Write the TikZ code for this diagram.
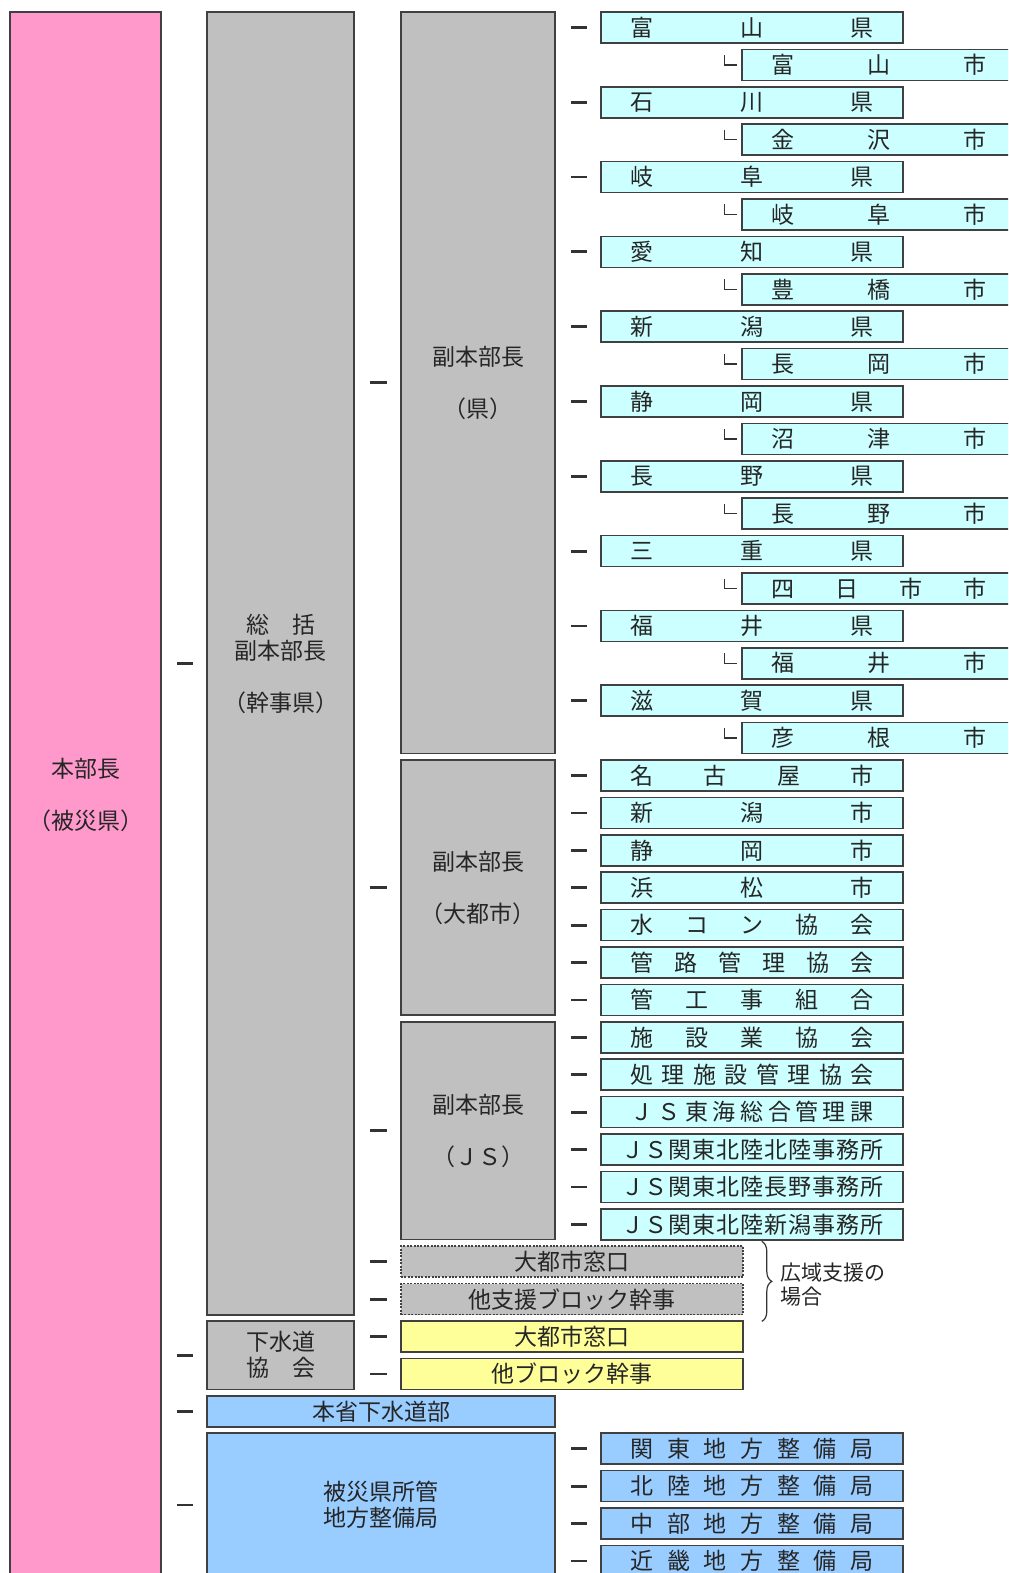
\documentclass[tikz,border=0pt]{standalone}
\usepackage{fontspec}
\setmainfont{Noto Sans CJK JP}
\usetikzlibrary{decorations.pathreplacing}

\definecolor{hqpink}{RGB}{255,153,204}
\definecolor{boxgray}{RGB}{192,192,192}
\definecolor{boxcyan}{RGB}{204,255,255}
\definecolor{boxyellow}{RGB}{255,255,153}
\definecolor{boxblue}{RGB}{153,204,255}

% spread the characters of a label over a fixed width
\newcommand{\spr}[2][121.5pt]{\makebox[#1][s]{\spaceskip=0pt plus 1fil\relax #2}}

\begin{document}
\begin{tikzpicture}[
    x=0.5pt, y=-0.5pt,
    box/.style={draw=black!75, line width=0.8pt, inner sep=0pt, text=black!85, font=\fontsize{11.5}{13}\selectfont, align=center},
    hq/.style={box, fill=hqpink, minimum width=75.5pt},
    chief/.style={box, fill=boxgray, minimum width=73.5pt},
    deputy/.style={box, fill=boxgray, minimum width=77pt},
    member/.style={box, fill=#1, minimum width=151pt, minimum height=15.5pt},
    city/.style={box, fill=boxcyan, minimum width=137pt, minimum height=15.5pt},
    wide/.style={box, fill=#1, minimum width=171pt, minimum height=15.5pt},
    wdash/.style={dash pattern=on 1pt off 0.7pt},
    tick/.style={line width=1.4pt, black!80, shorten <=7.5pt, shorten >=6.5pt},
    elbow/.style={line width=0.7pt, black!80},
    brace/.style={decorate, decoration={brace, amplitude=5pt}, line width=0.6pt, black!80},
    note/.style={inner sep=0pt, align=left, text=black!85, font=\fontsize{10.5}{12}\selectfont},
]
\useasboundingbox (0,0) rectangle (1008,1573);
\clip (0,0) rectangle (1008,1573);

% ========== LEVEL 0: head ==========
\node[hq, minimum height=782.5pt] at (85.5,794.5) (hq) {本部長\\[13pt]（被災県）};

% ========== LEVEL 1 ==========
\node[chief, minimum height=651.5pt] at (280.5,663.5) (chief) {総　括\\副本部長\\[13pt]（幹事県）};
\node[chief, minimum height=34.2pt] at (280.5,1355.2) (gesui) {下水道\\協　会};
\node[box, fill=boxblue, minimum width=174pt, minimum height=15.5pt] at (381,1411.3) (honsho) {本省下水道部};
\node[box, fill=boxblue, minimum width=174pt, minimum height=72pt] at (381,1505) (kyoku) {被災県所管\\地方整備局};

% ========== LEVEL 2 ==========
\node[deputy, minimum height=370.8pt] at (478,382.8) (dpref) {副本部長\\[13pt]（県）};
\node[deputy, minimum height=127.5pt] at (478,887.5) (dcity) {副本部長\\[13pt]（大都市）};
\node[deputy, minimum height=108.8pt] at (478,1130.8) (djs) {副本部長\\[13pt]（ＪＳ）};
\node[wide=boxgray, wdash] at (572,1261.7) (wcity) {大都市窓口};
\node[wide=boxgray, wdash] at (572,1299.1) (wblock) {他支援ブロック幹事};
\node[wide=boxyellow] at (572,1336.5) (ycity) {大都市窓口};
\node[wide=boxyellow] at (572,1373.9) (yblock) {他ブロック幹事};

% wide-area note
\draw[brace] ([xshift=9pt,yshift=2pt]wcity.north east) -- ([xshift=9pt,yshift=-3pt]wblock.south east);
\node[note, anchor=west] at (780,1285) (wcase) {広域支援の\\場合};

% ========== LEVEL 3: prefectures and cities ==========
\node[member=boxcyan] at (752,27.5) (p0) {\spr{富 山 県}};
\node[city] at (879,64.9) (c0) {\spr[107.5pt]{富 山 市}};
\node[member=boxcyan] at (752,102.3) (p1) {\spr{石 川 県}};
\node[city] at (879,139.7) (c1) {\spr[107.5pt]{金 沢 市}};
\node[member=boxcyan] at (752,177.1) (p2) {\spr{岐 阜 県}};
\node[city] at (879,214.5) (c2) {\spr[107.5pt]{岐 阜 市}};
\node[member=boxcyan] at (752,251.9) (p3) {\spr{愛 知 県}};
\node[city] at (879,289.3) (c3) {\spr[107.5pt]{豊 橋 市}};
\node[member=boxcyan] at (752,326.7) (p4) {\spr{新 潟 県}};
\node[city] at (879,364.1) (c4) {\spr[107.5pt]{長 岡 市}};
\node[member=boxcyan] at (752,401.5) (p5) {\spr{静 岡 県}};
\node[city] at (879,438.9) (c5) {\spr[107.5pt]{沼 津 市}};
\node[member=boxcyan] at (752,476.3) (p6) {\spr{長 野 県}};
\node[city] at (879,513.7) (c6) {\spr[107.5pt]{長 野 市}};
\node[member=boxcyan] at (752,551.1) (p7) {\spr{三 重 県}};
\node[city] at (879,588.5) (c7) {\spr[107.5pt]{四 日 市 市}};
\node[member=boxcyan] at (752,625.9) (p8) {\spr{福 井 県}};
\node[city] at (879,663.3) (c8) {\spr[107.5pt]{福 井 市}};
\node[member=boxcyan] at (752,700.7) (p9) {\spr{滋 賀 県}};
\node[city] at (879,738.1) (c9) {\spr[107.5pt]{彦 根 市}};

% ========== LEVEL 3: big cities ==========
\node[member=boxcyan] at (752,775.5) (bc0) {\spr{名 古 屋 市}};
\node[member=boxcyan] at (752,812.9) (bc1) {\spr{新 潟 市}};
\node[member=boxcyan] at (752,850.3) (bc2) {\spr{静 岡 市}};
\node[member=boxcyan] at (752,887.7) (bc3) {\spr{浜 松 市}};
\node[member=boxcyan] at (752,925.1) (bc4) {\spr{水 コ ン 協 会}};
\node[member=boxcyan] at (752,962.5) (bc5) {\spr{管 路 管 理 協 会}};
\node[member=boxcyan] at (752,999.9) (bc6) {\spr{管 工 事 組 合}};

% ========== LEVEL 3: JS ==========
\node[member=boxcyan] at (752,1037.3) (js0) {\spr{施 設 業 協 会}};
\node[member=boxcyan] at (752,1074.7) (js1) {\spr{処 理 施 設 管 理 協 会}};
\node[member=boxcyan] at (752,1112.1) (js2) {\spr{Ｊ Ｓ 東 海 総 合 管 理 課}};
\node[member=boxcyan] at (752,1149.5) (js3) {\spr[131pt]{Ｊ Ｓ 関 東 北 陸 北 陸 事 務 所}};
\node[member=boxcyan] at (752,1186.9) (js4) {\spr[131pt]{Ｊ Ｓ 関 東 北 陸 長 野 事 務 所}};
\node[member=boxcyan] at (752,1224.3) (js5) {\spr[131pt]{Ｊ Ｓ 関 東 北 陸 新 潟 事 務 所}};

% ========== LEVEL 3: regional bureaus ==========
\node[member=boxblue] at (752,1448.7) (kb0) {\spr{関 東 地 方 整 備 局}};
\node[member=boxblue] at (752,1486.1) (kb1) {\spr{北 陸 地 方 整 備 局}};
\node[member=boxblue] at (752,1523.5) (kb2) {\spr{中 部 地 方 整 備 局}};
\node[member=boxblue] at (752,1560.9) (kb3) {\spr{近 畿 地 方 整 備 局}};

% ========== TICKS ==========
\foreach \n in {chief,gesui,honsho,kyoku}
    \draw[tick] (hq.east |- \n.west) -- (\n.west);
\foreach \n in {dpref,dcity,djs,wcity,wblock}
    \draw[tick] (chief.east |- \n.west) -- (\n.west);
\foreach \n in {ycity,yblock}
    \draw[tick] (gesui.east |- \n.west) -- (\n.west);
\foreach \i in {0,...,9} {
    \draw[tick] (dpref.east |- p\i.west) -- (p\i.west);
    \draw[elbow] ([xshift=-8.5pt,yshift=5pt]c\i.west) |- ([xshift=-2pt]c\i.west);
}
\foreach \i in {0,...,6}
    \draw[tick] (dcity.east |- bc\i.west) -- (bc\i.west);
\foreach \i in {0,...,5}
    \draw[tick] (djs.east |- js\i.west) -- (js\i.west);
\foreach \i in {0,...,3}
    \draw[tick] (kyoku.east |- kb\i.west) -- (kb\i.west);

\end{tikzpicture}
\end{document}
